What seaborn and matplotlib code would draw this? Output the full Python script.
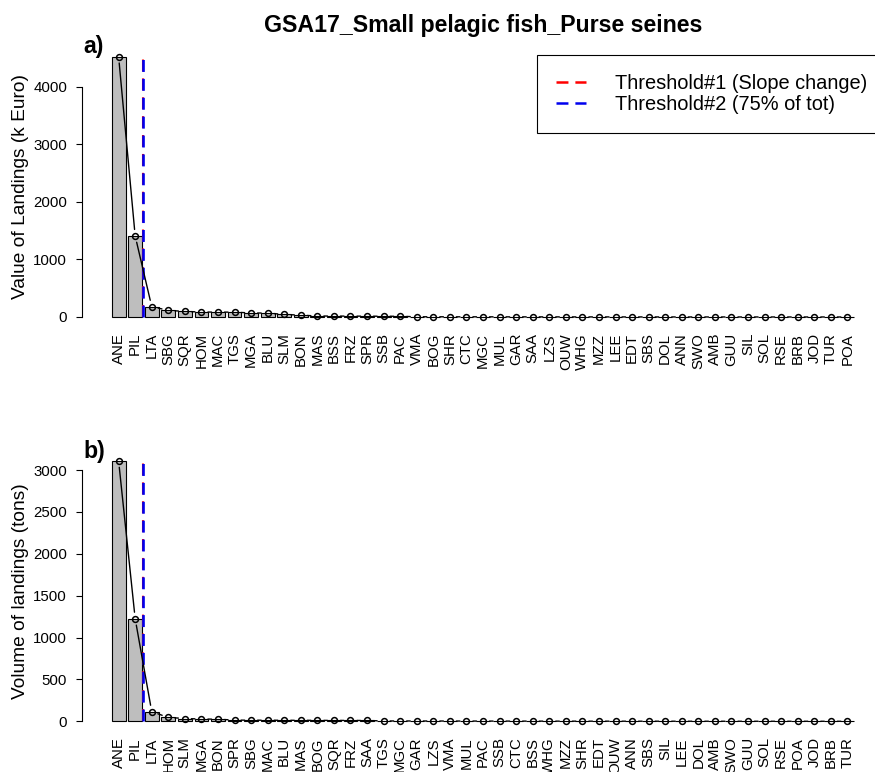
import numpy as np
import matplotlib
matplotlib.use("Agg")
import matplotlib.pyplot as plt
from matplotlib.lines import Line2D
import seaborn as sns

# Species codes and landings, sorted by decreasing value in each panel
species_value = ["ANE", "PIL", "LTA", "SBG", "SQR", "HOM", "MAC", "TGS", "MGA", "BLU",
                 "SLM", "BON", "MAS", "BSS", "FRZ", "SPR", "SSB", "PAC", "VMA", "BOG",
                 "SHR", "CTC", "MGC", "MUL", "GAR", "SAA", "LZS", "OUW", "WHG", "MZZ",
                 "LEE", "EDT", "SBS", "DOL", "ANN", "SWO", "AMB", "GUU", "SIL", "SOL",
                 "RSE", "BRB", "JOD", "TUR", "POA"]
landings_value = [4530, 1410, 180, 115, 97, 86, 85, 84, 70, 68,
                  44, 32, 17, 16, 15, 14, 13, 12, 4, 3.6,
                  3.2, 3.0, 2.7, 2.4, 2.2, 2.0, 1.8, 1.6, 1.4, 1.3,
                  1.2, 1.0, 0.9, 0.8, 0.7, 0.6, 0.5, 0.45, 0.4, 0.35,
                  0.3, 0.25, 0.2, 0.15, 0.1]

species_volume = ["ANE", "PIL", "LTA", "HOM", "SLM", "MGA", "BON", "SPR", "SBG", "MAC",
                  "BLU", "MAS", "BOG", "SQR", "FRZ", "SAA", "TGS", "MGC", "GAR", "LZS",
                  "VMA", "MUL", "PAC", "SSB", "CTC", "BSS", "WHG", "MZZ", "SHR", "EDT",
                  "OUW", "ANN", "SBS", "SIL", "LEE", "DOL", "AMB", "SWO", "GUU", "SOL",
                  "RSE", "POA", "JOD", "BRB", "TUR"]
landings_volume = [3110, 1225, 115, 46, 33, 27, 25, 14, 13, 12.5,
                   12, 11.5, 11, 10.5, 10, 9.5, 4, 3.8, 3.5, 3.2,
                   3.0, 2.7, 2.5, 2.3, 2.1, 1.9, 1.7, 1.5, 1.3, 1.2,
                   1.1, 1.0, 0.9, 0.8, 0.7, 0.6, 0.5, 0.45, 0.4, 0.35,
                   0.3, 0.25, 0.2, 0.15, 0.1]

# Number of species retained by each threshold
n_slope_change = [2, 2]
n_cumulative_75 = [2, 2]

ticks_value = [0, 1000, 2000, 3000, 4000]
ticks_volume = [0, 500, 1000, 1500, 2000, 2500, 3000]

title = "GSA17_Small pelagic fish_Purse seines"
legend_labels = ["Threshold#1 (Slope change)", "Threshold#2 (75% of tot)"]

sns.set_style("white")
plt.rcParams["font.family"] = ["Liberation Sans", "DejaVu Sans"]
plt.rcParams["text.color"] = "black"
plt.rcParams["axes.labelcolor"] = "black"
plt.rcParams["xtick.color"] = "black"
plt.rcParams["ytick.color"] = "black"

TICK_FS = 10.8
RED, BLUE = "#FF0000", "#0000EE"
DASH_ON, DASH_OFF = 8.6, 5.0   # dash pattern in points


def dash_for(lw):
    return (DASH_ON / lw, DASH_OFF / lw)


W, H = 875, 772
fig = plt.figure(figsize=(W / 100, H / 100), dpi=100)


def px_box(left, top, right, bottom):
    return [left / W, 1 - bottom / H, (right - left) / W, (bottom - top) / H]


def draw_panel(ax, cats, vals, yticks, ylabel, thr1, thr2):
    n = len(cats)
    bw = 1 / 1.2
    sns.barplot(x=cats, y=vals, order=cats, color="#BEBEBE", saturation=1,
                edgecolor="black", linewidth=0.8, width=bw, ax=ax)
    pad = 0.04 * (n - 1 + bw)
    ax.set_xlim(-bw / 2 - pad, n - 1 + bw / 2 + pad)
    vmax = max(vals)
    ax.set_ylim(-0.04 * vmax, 1.04 * vmax)

    # threshold lines (slope change underneath, 75% cumulative on top)
    ax.plot([thr1 - 0.5] * 2, [0, vmax], color=RED, lw=1.5, dashes=dash_for(1.5),
            dash_capstyle="butt", zorder=4)
    ax.plot([thr2 - 0.5] * 2, [0, vmax], color=BLUE, lw=1.9, dashes=dash_for(1.9),
            dash_capstyle="butt", zorder=5)

    # points joined by lines that stop short of each marker
    x = np.arange(n, dtype=float)
    y = np.asarray(vals, dtype=float)
    ax.plot(x, y, "o", mfc="none", mec="black", ms=4.2, mew=1.1, zorder=6)
    tr = ax.transData
    pts = tr.transform(np.column_stack([x, y]))
    gap = 6.5
    inv = tr.inverted()
    for p1, p2 in zip(pts[:-1], pts[1:]):
        d = p2 - p1
        L = np.hypot(*d)
        if L <= 2 * gap:
            continue
        u = d / L
        seg = inv.transform(np.vstack([p1 + u * gap, p2 - u * gap]))
        ax.plot(seg[:, 0], seg[:, 1], color="black", lw=1.0, zorder=6)

    for s in ["top", "right", "bottom"]:
        ax.spines[s].set_visible(False)
    ax.spines["left"].set_bounds(yticks[0], yticks[-1])
    ax.spines["left"].set_linewidth(0.8)
    ax.spines["left"].set_color("black")

    ax.set_xticks(x, labels=cats, fontsize=TICK_FS, rotation=90, va="top",
                  ha="center", color="black")
    ax.set_yticks(yticks, labels=[str(t) for t in yticks], fontsize=TICK_FS,
                  color="black")
    ax.tick_params(axis="y", direction="out", length=4.3, width=0.8, pad=6.5,
                   labelsize=TICK_FS, left=True)
    ax.tick_params(axis="x", length=0, pad=4.0, labelsize=TICK_FS)
    ax.set_xlabel("")
    ax.set_ylabel(ylabel, fontsize=13.8, color="black")
    ax.yaxis.set_label_coords((29 - 82) / 802, 0.5)
    ax.set_facecolor("none")


ax1 = fig.add_axes(px_box(82, 46.1, 884, 327.4))
draw_panel(ax1, species_value, landings_value, ticks_value,
           "Value of Landings (k Euro)", n_slope_change[0], n_cumulative_75[0])

ax2 = fig.add_axes(px_box(82, 450.4, 884, 731.7))
draw_panel(ax2, species_volume, landings_volume, ticks_volume,
           "Volume of landings (tons)", n_slope_change[1], n_cumulative_75[1])

fig.text(483 / W, 1 - 32 / H, title, ha="center", va="baseline",
         fontsize=16.7, fontweight="bold", color="black")
fig.text(83 / W, 1 - 53 / H, "a)", ha="left", va="baseline",
         fontsize=16.7, fontweight="bold", color="black")
fig.text(83 / W, 1 - 458 / H, "b)", ha="left", va="baseline",
         fontsize=16.7, fontweight="bold", color="black")

handles = [Line2D([0], [0], color=RED, lw=1.8, dashes=dash_for(1.8)),
           Line2D([0], [0], color=BLUE, lw=1.8, dashes=dash_for(1.8))]
leg = fig.legend(handles, legend_labels, loc="upper left",
                 bbox_to_anchor=(537 / W, 1 - 55 / H), bbox_transform=fig.transFigure,
                 fontsize=14.4, frameon=True, fancybox=False, framealpha=1,
                 edgecolor="black", handlelength=1.5, handletextpad=1.45,
                 borderpad=0.95, labelspacing=0.1, borderaxespad=0)
leg.get_frame().set_linewidth(0.8)

fig.savefig("out.png", dpi=100)
